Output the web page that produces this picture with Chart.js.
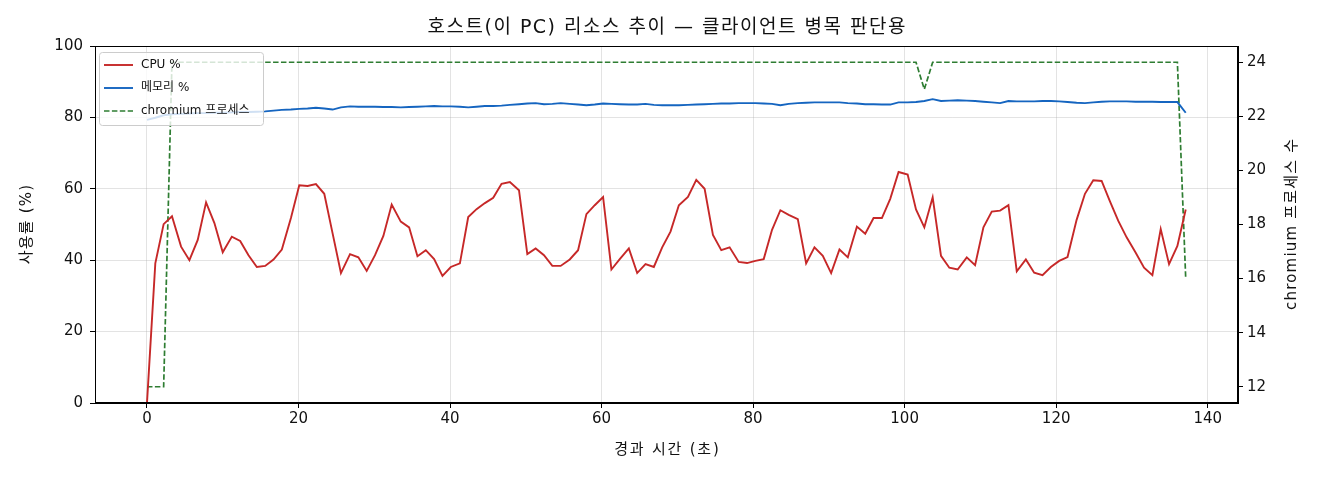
<!DOCTYPE html>
<html><head><meta charset="utf-8">
<script src="https://cdn.jsdelivr.net/npm/chart.js@4.4.0/dist/chart.umd.min.js"></script>
<style>html,body{margin:0;padding:0;background:#fff}#wrap{width:1320px;height:480px;position:relative}</style>
</head><body><div id="wrap"><canvas id="c"></canvas></div>
<script>
const times = [0.0,1.1,2.2,3.3,4.5,5.6,6.7,7.8,8.9,10.0,11.2,12.3,13.4,14.5,15.6,16.7,17.8,19.0,20.1,21.2,
22.3,23.4,24.5,25.6,26.8,27.9,29.0,30.1,31.2,32.3,33.5,34.6,35.7,36.8,37.9,39.0,40.1,41.3,42.4,43.5,
44.6,45.7,46.8,47.9,49.1,50.2,51.3,52.4,53.5,54.6,55.8,56.9,58.0,59.1,60.2,61.3,62.4,63.6,64.7,65.8,
66.9,68.0,69.1,70.2,71.4,72.5,73.6,74.7,75.8,76.9,78.1,79.2,80.3,81.4,82.5,83.6,84.7,85.9,87.0,88.1,
89.2,90.3,91.4,92.5,93.7,94.8,95.9,97.0,98.1,99.2,100.4,101.5,102.6,103.7,104.8,105.9,107.0,108.2,109.3,110.4,
111.5,112.6,113.7,114.8,116.0,117.1,118.2,119.3,120.4,121.5,122.7,123.8,124.9,126.0,127.1,128.2,129.3,130.5,131.6,132.7,
133.8,134.9,136.0,137.1];
const cpu = [0,39.1,50.1,52.3,43.8,40.0,45.7,56.2,50.4,42.2,46.6,45.4,41.4,38.1,38.4,40.2,43.0,51.8,61.0,60.8,
61.3,58.6,47.5,36.4,41.7,40.8,37.0,41.4,46.8,55.6,50.8,49.2,41.1,42.8,40.3,35.6,38.1,39.1,52.1,54.3,
56.0,57.5,61.4,61.9,59.6,41.7,43.3,41.4,38.4,38.4,40.2,42.8,52.9,55.4,57.7,37.4,40.3,43.3,36.4,38.9,
38.1,43.6,48.0,55.4,57.7,62.5,60.0,47.1,42.8,43.6,39.5,39.2,39.8,40.3,48.5,54.0,52.7,51.5,39.1,43.6,
41.2,36.4,43.0,40.8,49.4,47.4,51.8,51.8,57.2,64.7,64.0,54.2,49.2,57.6,41.2,37.9,37.4,40.8,38.6,49.2,
53.6,53.9,55.4,36.9,40.2,36.5,35.8,38.1,39.8,40.9,51.3,58.6,62.4,62.2,56.5,51.0,46.4,42.1,37.9,35.8,
48.7,38.9,44.0,54.2];
const mem = [79.3,79.9,80.6,80.9,81.0,81.1,81.2,81.2,81.3,81.3,81.4,81.5,81.5,81.6,81.7,81.9,82.1,82.2,82.4,82.5,
82.7,82.5,82.2,82.8,83.1,83.0,83.0,83.0,82.9,82.9,82.8,82.9,83.0,83.1,83.2,83.1,83.1,83.0,82.8,83.0,
83.2,83.2,83.3,83.5,83.7,83.9,84.0,83.7,83.8,84.0,83.8,83.6,83.4,83.6,83.9,83.8,83.7,83.6,83.6,83.8,
83.5,83.4,83.4,83.4,83.5,83.6,83.7,83.8,83.9,83.9,84.0,84.0,84.0,83.9,83.8,83.4,83.8,84.0,84.1,84.2,
84.2,84.2,84.2,84.0,83.9,83.7,83.7,83.6,83.6,84.2,84.2,84.3,84.6,85.1,84.6,84.7,84.8,84.7,84.6,84.4,
84.2,84.0,84.6,84.5,84.5,84.5,84.6,84.6,84.5,84.3,84.1,84.0,84.2,84.4,84.5,84.5,84.5,84.4,84.4,84.4,
84.3,84.3,84.3,81.3];
const procs = [12,12,12,24,24,24,24,24,24,24,24,24,24,24,24,24,24,24,24,24,
24,24,24,24,24,24,24,24,24,24,24,24,24,24,24,24,24,24,24,24,
24,24,24,24,24,24,24,24,24,24,24,24,24,24,24,24,24,24,24,24,
24,24,24,24,24,24,24,24,24,24,24,24,24,24,24,24,24,24,24,24,
24,24,24,24,24,24,24,24,24,24,24,24,23,24,24,24,24,24,24,24,
24,24,24,24,24,24,24,24,24,24,24,24,24,24,24,24,24,24,24,24,
24,24,24,16];
const xTicks = [0,20,40,60,80,100,120,140];
const yTicks = [0,20,40,60,80,100];
const y2Ticks = [12,14,16,18,20,22,24];
const seriesLabels = ['CPU %','메모리 %','chromium 프로세스'];
const seriesColors = ['#c62828','#1565c0','#2e7d32'];
const titleText = '호스트(이 PC) 리소스 추이 — 클라이언트 병목 판단용';
const xTitle = '경과 시간 (초)';
const yTitle = '사용률 (%)';
const y2Title = 'chromium 프로세스 수';

const FAM = "'DejaVu Sans','Noto Sans CJK KR',sans-serif";
Chart.defaults.font.family = FAM;
Chart.defaults.color = '#111';

const pts = arr => arr.map((v,i)=>({x:times[i], y:v}));
const gridCol = 'rgba(176,176,176,0.35)';

function txt(ctx, s, x, y, size, spacing, rot){
  ctx.save();
  ctx.translate(x,y);
  if (rot) ctx.rotate(rot);
  ctx.font = size+"px "+FAM;
  try { ctx.letterSpacing = spacing+'px'; } catch(e){}
  ctx.fillStyle='#111'; ctx.textAlign='center'; ctx.textBaseline='middle';
  ctx.fillText(s, spacing/2, 0);
  ctx.restore();
}

const boxPlugin = {
  id:'box',
  afterDatasetsDraw(chart){
    const {ctx, chartArea:a} = chart;
    ctx.save();
    ctx.strokeStyle='#000'; ctx.lineWidth=1;
    ctx.strokeRect(Math.round(a.left)+0.5, Math.round(a.top)+0.5, Math.round(a.right-a.left)-1, Math.round(a.bottom-a.top)-1);
    ctx.restore();
  }
};
const textPlugin = {
  id:'texts',
  afterDraw(chart){
    const ctx = chart.ctx, a = chart.chartArea;
    const cx = (a.left+a.right)/2, cy = (a.top+a.bottom)/2;
    txt(ctx, titleText, cx, 28, 19, 1.5, 0);
    txt(ctx, xTitle, cx, 450, 15, 1.8, 0);
    txt(ctx, yTitle, 27, cy, 15, 1.2, -Math.PI/2);
    txt(ctx, y2Title, 1292, cy, 15, 1.2, -Math.PI/2);
  }
};
const legendPlugin = {
  id:'mplLegend',
  afterDraw(chart){
    const ctx = chart.ctx;
    const a = chart.chartArea;
    const x0 = a.left+4, y0 = a.top+6, w = 164, h = 73;
    ctx.save();
    ctx.beginPath();
    if (ctx.roundRect) ctx.roundRect(x0+0.5,y0+0.5,w,h,3); else ctx.rect(x0+0.5,y0+0.5,w,h);
    ctx.fillStyle='rgba(255,255,255,0.8)'; ctx.fill();
    ctx.strokeStyle='#cccccc'; ctx.lineWidth=1; ctx.stroke();
    chart.data.datasets.forEach((ds,i)=>{
      const yy = y0 + 13 + i*23;
      ctx.beginPath();
      ctx.setLineDash(ds.borderDash||[]);
      ctx.strokeStyle = ds.borderColor; ctx.lineWidth = ds.borderWidth;
      ctx.moveTo(x0+5, yy); ctx.lineTo(x0+34, yy); ctx.stroke();
      ctx.setLineDash([]);
      ctx.fillStyle='#111'; ctx.font="12px "+FAM;
      ctx.textBaseline='middle'; ctx.textAlign='left';
      ctx.fillText(ds.label, x0+42, yy);
    });
    ctx.restore();
  }
};

new Chart(document.getElementById('c'), {
  type:'line',
  data:{datasets:[
    {label:seriesLabels[0], data:pts(cpu), borderColor:seriesColors[0], borderWidth:1.9, pointRadius:0, tension:0, yAxisID:'y'},
    {label:seriesLabels[1], data:pts(mem), borderColor:seriesColors[1], borderWidth:1.9, pointRadius:0, tension:0, yAxisID:'y'},
    {label:seriesLabels[2], data:pts(procs), borderColor:seriesColors[2], borderWidth:1.7, borderDash:[5.5,2.4], pointRadius:0, tension:0, yAxisID:'y2'}
  ]},
  options:{
    responsive:true, maintainAspectRatio:false, animation:false,
    layout:{padding:{top:46}},
    plugins:{ legend:{display:false}, tooltip:{enabled:false}, title:{display:false} },
    scales:{
      x:{type:'linear', min:-6.86, max:144.0,
        afterBuildTicks:s=>{s.ticks = xTicks.map(v=>({value:v}));},
        afterFit:s=>{s.height=77;},
        grid:{color:gridCol, tickColor:'#000', tickLength:5},
        border:{color:'#000', width:1},
        ticks:{color:'#111', font:{size:15}, padding:2, maxRotation:0, autoSkip:false}
      },
      y:{type:'linear', position:'left', min:0, max:100,
        afterBuildTicks:s=>{s.ticks = yTicks.map(v=>({value:v}));},
        afterFit:s=>{s.width=95;},
        grid:{color:gridCol, tickColor:'#000', tickLength:5},
        border:{color:'#000', width:1},
        ticks:{color:'#111', font:{size:15}, padding:7}
      },
      y2:{type:'linear', position:'right', min:11.4, max:24.6,
        afterBuildTicks:s=>{s.ticks = y2Ticks.map(v=>({value:v}));},
        afterFit:s=>{s.width=82;},
        grid:{drawOnChartArea:false, tickColor:'#000', tickLength:5},
        border:{color:'#000', width:1},
        ticks:{color:'#111', font:{size:15}, padding:4}
      }
    }
  },
  plugins:[boxPlugin, legendPlugin, textPlugin]
});
</script></body></html>
